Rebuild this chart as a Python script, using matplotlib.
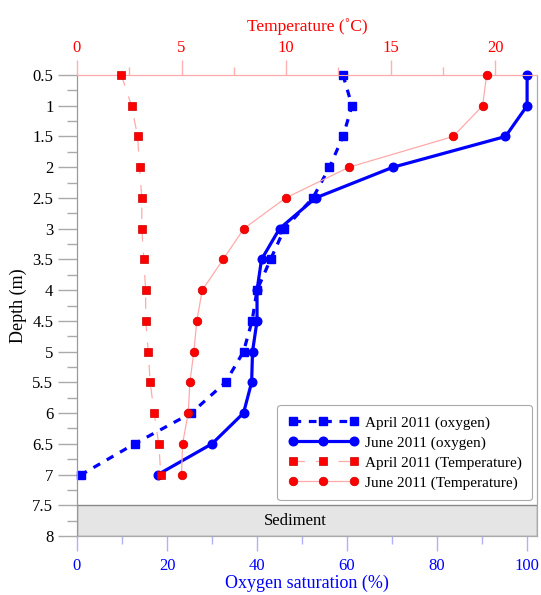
import matplotlib
matplotlib.use("Agg")
import matplotlib.pyplot as plt
from matplotlib.ticker import MultipleLocator, FuncFormatter

depth = [0.5, 1, 1.5, 2, 2.5, 3, 3.5, 4, 4.5, 5, 5.5, 6, 6.5, 7]
oxy_april = [59.1, 61.1, 59.1, 56.1, 52.4, 46.1, 43.0, 40.0, 38.9, 37.0, 33.0, 25.4, 12.8, 1.0]
oxy_june = [100, 100, 95.2, 70.2, 53.0, 45.0, 41.0, 40.0, 40.0, 39.0, 38.8, 37.0, 30.0, 18.0]
temp_april = [2.12, 2.61, 2.90, 2.99, 3.10, 3.10, 3.20, 3.28, 3.29, 3.41, 3.50, 3.69, 3.91, 4.01]
temp_june = [19.59, 19.40, 17.99, 13.01, 9.98, 7.98, 6.99, 5.99, 5.73, 5.59, 5.40, 5.32, 5.05, 5.00]

plt.rcParams['font.family'] = ['Liberation Serif', 'DejaVu Serif']
plt.rcParams['font.size'] = 11.5

fig = plt.figure(figsize=(5.41, 5.95), dpi=100)
ax = fig.add_axes([0.1423, 0.0992, 0.8503, 0.7747])
ax2 = ax.twiny()

blue = '#0000ff'
red = '#ff0000'
pink = '#ffaaaa'

ax.set_xlim(0, 102.2)
ax2.set_xlim(0, 22)
ax.set_ylim(8, 0.5)

# sediment
ax.axhspan(7.5, 8, facecolor='#e5e5e5', edgecolor='#888888', lw=1.0, zorder=0)
ax.text(0.474, 7.75, 'Sediment', transform=ax.get_yaxis_transform(), ha='center', va='center', fontsize=12)

l1, = ax.plot(oxy_april, depth, color=blue, lw=2.3, ls=(0, (2.4, 2.4)), marker='s', ms=6.2,
              clip_on=False, zorder=4, label='April 2011 (oxygen)')
l2, = ax.plot(oxy_june, depth, color=blue, lw=2.3, ls='-', marker='o', ms=6.2,
              clip_on=False, zorder=4, label='June 2011 (oxygen)')
l3, = ax2.plot(temp_april, depth, color=pink, lw=0.9, ls=(0, (9, 9)), marker='s', ms=6.2,
               mfc=red, mec='#cc0000', mew=0.5, clip_on=False, zorder=3,
               label='April 2011 (Temperature)')
l4, = ax2.plot(temp_june, depth, color=pink, lw=0.9, ls='-', marker='o', ms=6.2,
               mfc=red, mec='#cc0000', mew=0.5, clip_on=False, zorder=3,
               label='June 2011 (Temperature)')

# y axis
ax.yaxis.set_major_locator(MultipleLocator(0.5))
ax.yaxis.set_minor_locator(MultipleLocator(0.25))
ax.yaxis.set_major_formatter(FuncFormatter(lambda v, p: '%g' % v))
ax.tick_params(axis='y', which='major', direction='out', length=14, color='#aaaaaa', width=1, labelsize=12, pad=3)
ax.tick_params(axis='y', which='minor', direction='out', length=7, color='#aaaaaa', width=1)
ax.set_ylabel('Depth (m)', fontsize=13, labelpad=4)

# bottom axis (oxygen)
ax.xaxis.set_major_locator(MultipleLocator(20))
ax.xaxis.set_minor_locator(MultipleLocator(10))
ax.tick_params(axis='x', which='major', direction='out', length=10.5, color='#b0b0ff', width=1,
               labelcolor=blue, labelsize=12, pad=5)
ax.tick_params(axis='x', which='minor', direction='out', length=5.5, color='#b0b0ff', width=1)
ax.set_xlabel('Oxygen saturation (%)', color=blue, fontsize=13, labelpad=1)

# top axis (temperature)
ax2.xaxis.set_major_locator(MultipleLocator(5))
ax2.xaxis.set_minor_locator(MultipleLocator(2.5))
ax2.tick_params(axis='x', which='major', direction='out', length=11, color='#ffb0b0', width=1,
                labelcolor=red, labelsize=12, pad=3)
ax2.tick_params(axis='x', which='minor', direction='out', length=5.5, color='#ffb0b0', width=1)
ax2.set_xlabel('Temperature (\u02daC)', color=red, fontsize=12.5, labelpad=6)

for a in (ax, ax2):
    a.spines['left'].set_color('#999999')
    a.spines['right'].set_color('#aaaaaa')
    a.spines['bottom'].set_color('#aaaaaa')
    a.spines['top'].set_color('#ffaaaa')

leg = ax2.legend(handles=[l1, l2, l3, l4], loc='lower right', bbox_to_anchor=(1.006, 0.061),
                 numpoints=3, handlelength=4.6, fontsize=11, frameon=True, fancybox=True,
                 edgecolor='#aaaaaa', framealpha=1, borderpad=0.7, labelspacing=0.4,
                 handletextpad=0.4)
leg.get_frame().set_linewidth(0.8)

fig.savefig('out.png', dpi=100)
